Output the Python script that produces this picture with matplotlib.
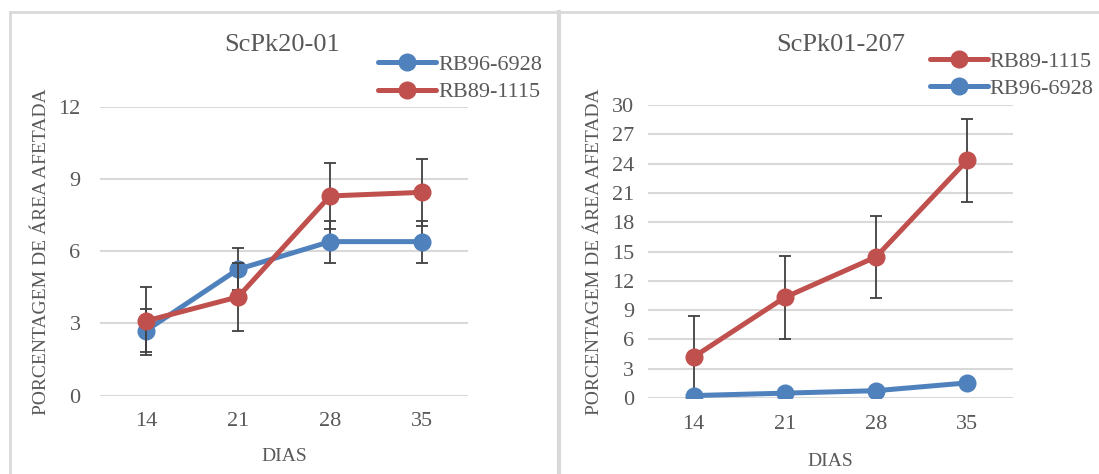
import matplotlib
matplotlib.use("Agg")
import matplotlib.pyplot as plt
from matplotlib.lines import Line2D

dias = ["14", "21", "28", "35"]

# ScPk20-01
left_rb96 = [2.7, 5.25, 6.4, 6.4]
left_rb96_err = [0.9, 0.87, 0.87, 0.87]
left_rb89 = [3.1, 4.1, 8.3, 8.45]
left_rb89_err = [1.4, 1.43, 1.39, 1.39]

# ScPk01-207
right_rb89 = [4.2, 10.3, 14.45, 24.35]
right_rb89_err = [4.25, 4.23, 4.22, 4.25]
right_rb96 = [0.25, 0.5, 0.75, 1.55]

BLUE = "#4f81bd"
RED = "#c0504d"
TEXT = "#595959"
GRID = "#d9d9d9"
ERR = "#404040"

plt.rcParams["font.family"] = ["Liberation Serif", "DejaVu Serif"]

fig = plt.figure(figsize=(10.99, 4.74), dpi=100)


def draw_series(ax, y, err, color, label, z):
    x = range(len(y))
    if err is not None:
        ax.errorbar(x, y, yerr=err, fmt="none", ecolor=ERR, elinewidth=1.3,
                    capsize=4, capthick=1.3, zorder=z)
    ax.plot(x, y, color=color, lw=3.6, marker="o", ms=12, label=label,
            zorder=z + 1, solid_capstyle="round")


def style_axis(ax, ymax, step, ypad, xlabelpad):
    ax.set_xlim(-0.5, len(dias) - 0.5)
    ax.set_ylim(0, ymax)
    ax.set_yticks(range(0, ymax + 1, step))
    ax.set_xticks(range(len(dias)))
    ax.set_xticklabels(dias)
    for s in ax.spines.values():
        s.set_visible(False)
    ax.grid(axis="y", color=GRID, lw=1.5)
    ax.set_axisbelow(True)
    ax.tick_params(length=0, labelsize=16, colors=TEXT)
    ax.tick_params(axis="x", pad=12)
    ax.tick_params(axis="y", pad=ypad)
    ax.set_xlabel("DIAS", fontsize=14, color=TEXT, labelpad=xlabelpad)
    ax.set_ylabel("PORCENTAGEM DE ÁREA AFETADA", fontsize=14, color=TEXT,
                  labelpad=6)


def add_legend(ax, x, y):
    ax.legend(loc="upper left", bbox_to_anchor=(x, y), bbox_transform=fig.transFigure,
              frameon=False, fontsize=16, handlelength=2.6, handletextpad=0.1,
              labelspacing=0.3, borderaxespad=0, borderpad=0, labelcolor=TEXT)


ax1 = fig.add_axes([0.091, 0.1656, 0.335, 0.6087])
draw_series(ax1, left_rb96, left_rb96_err, BLUE, "RB96-6928", 2)
draw_series(ax1, left_rb89, left_rb89_err, RED, "RB89-1115", 4)
style_axis(ax1, 12, 3, 14, 12)
fig.text(0.257, 0.905, "ScPk20-01", ha="center", va="center", fontsize=19,
         color=TEXT)
add_legend(ax1, 0.344, 0.885)

ax2 = fig.add_axes([0.5896, 0.1603, 0.332, 0.618])
draw_series(ax2, right_rb89, right_rb89_err, RED, "RB89-1115", 4)
draw_series(ax2, right_rb96, None, BLUE, "RB96-6928", 6)
style_axis(ax2, 30, 3, 10, 14)
fig.text(0.765, 0.905, "ScPk01-207", ha="center", va="center", fontsize=19,
         color=TEXT)
add_legend(ax2, 0.846, 0.892)

# panel borders
for xs, ys, lw in [([10, 1099], [12, 12], 2), ([10, 10], [12, 474], 2),
                   ([559, 559], [12, 474], 3)]:
    fig.add_artist(Line2D([x / 1099 for x in xs], [1 - y / 474 for y in ys],
                          color=GRID, lw=lw, transform=fig.transFigure))

fig.savefig("out.png", dpi=100)
